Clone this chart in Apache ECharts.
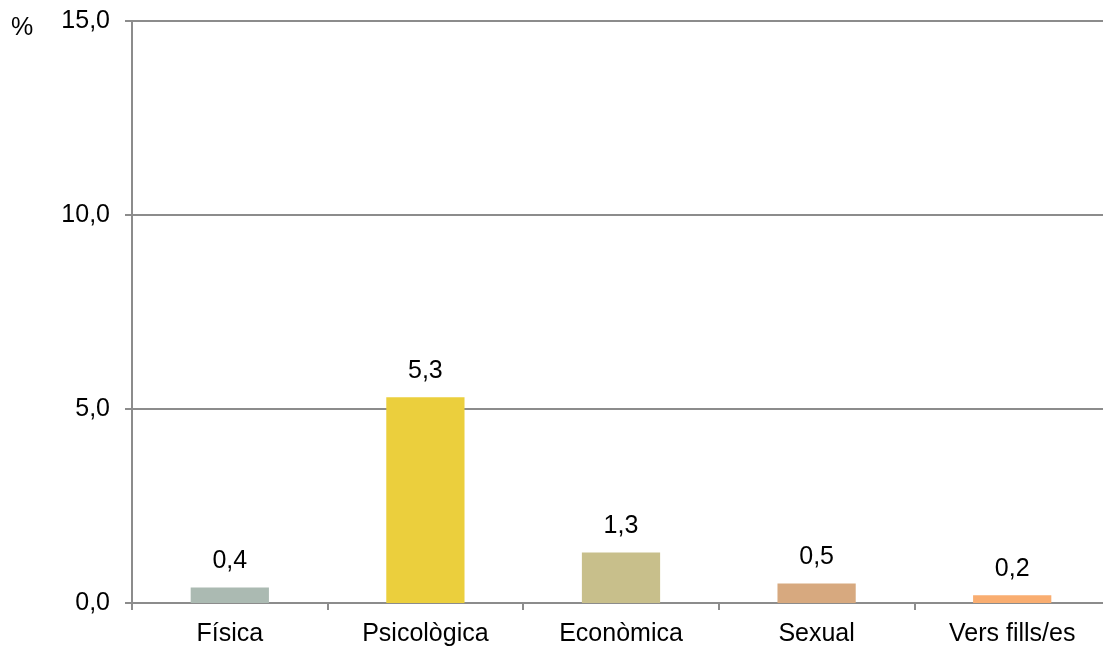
<!DOCTYPE html>
<html><head><meta charset="utf-8">
<script src="https://cdn.jsdelivr.net/npm/echarts@6/dist/echarts.min.js"></script>
<style>html,body{margin:0;padding:0;background:#fff;overflow:hidden}#c{width:1111px;height:647px}</style>
</head><body><div id="c"></div>
<script>
const categories = ['Física', 'Psicològica', 'Econòmica', 'Sexual', 'Vers fills/es'];
const values = [0.4, 5.3, 1.3, 0.5, 0.2];
const barColors = ['#abbab2', '#ebcf3d', '#c8bf8b', '#d7a97f', '#f9ad70'];
const yTicks = [0, 5, 10, 15];
const fmt = v => v.toFixed(1).replace('.', ',');
const FS = 25;
const chart = echarts.init(document.getElementById('c'));
chart.setOption({
  animation: false,
  textStyle: { fontFamily: 'Liberation Sans, Arial, sans-serif' },
  grid: { left: 132, right: 1, top: 21, height: 582, containLabel: false },
  graphic: [{ type: 'text', left: 11, top: 16, style: { text: '%', font: FS + 'px Liberation Sans', fill: '#000' } }],
  xAxis: {
    type: 'category', data: categories,
    axisLine: { lineStyle: { color: '#8c8c8c', width: 2 } },
    axisTick: { show: true, length: 7, lineStyle: { color: '#8c8c8c', width: 2 } },
    axisLabel: { color: '#000', fontSize: FS, margin: 19, fontFamily: 'Liberation Sans' }
  },
  yAxis: {
    type: 'value', min: yTicks[0], max: yTicks[yTicks.length - 1], interval: 5,
    axisLine: { show: true, lineStyle: { color: '#8c8c8c', width: 2 } },
    axisTick: { show: true, length: 7, lineStyle: { color: '#8c8c8c', width: 2 } },
    splitLine: { lineStyle: { color: '#8c8c8c', width: 2 } },
    axisLabel: { color: '#000', fontSize: FS, margin: 22, formatter: fmt, fontFamily: 'Liberation Sans' }
  },
  series: [{
    type: 'bar', barWidth: '40%',
    data: values.map((v, i) => ({ value: v, itemStyle: { color: barColors[i] } })),
    label: { show: true, position: 'top', distance: 14, color: '#000', fontSize: FS, fontFamily: 'Liberation Sans', formatter: p => fmt(p.value) }
  }]
});
</script></body></html>
